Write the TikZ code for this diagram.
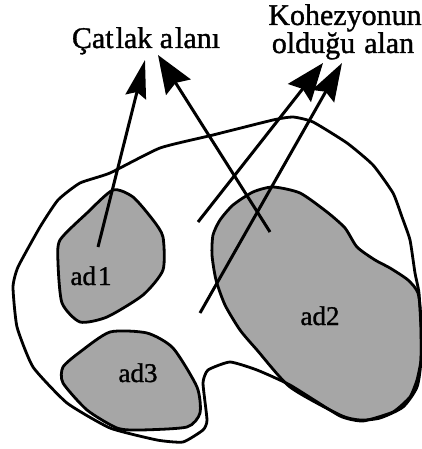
\documentclass[tikz,border=0pt]{standalone}
\usepackage{fontspec}
\setmainfont{Liberation Serif}[FakeBold=1.2]
\usetikzlibrary{arrows.meta}
\begin{document}
\begin{tikzpicture}[x=1pt,y=-1pt,
  outline/.style={line width=2.8pt, line join=round},
  blob/.style={outline, fill=black!35},
  bigarrow/.style={line width=3pt, -{Stealth[length=38pt,width=#1,inset=5pt]}},
  bigarrow/.default=24pt,
  lbl/.style={font=\fontsize{30}{28}\selectfont, inner sep=0pt, anchor=base},
  adlbl/.style={font=\fontsize{27}{27}\selectfont, inner sep=0pt, anchor=base}]
\useasboundingbox (0,0) rectangle (422,449);
% grey areas
\draw[blob] plot[smooth cycle, tension=0.4] coordinates {
  (113,190) (133,197) (153,220) (163,237) (163,270) (143,295) (107,317)
  (80,322) (62,303) (58,263) (60,240) (87,213)};
\draw[blob] plot[smooth cycle, tension=0.4] coordinates {
  (273,187) (300,193) (327,212) (345,228) (357,247) (375,260) (390,268)
  (408,280) (418,293) (421,320) (421,360) (417,387) (403,407) (380,418)
  (360,420) (340,415) (290,387) (257,350) (240,330) (225,305) (216,280)
  (212,255) (213,235) (220,220) (233,205) (253,192)};
\draw[blob] plot[smooth cycle, tension=0.4] coordinates {
  (110,332) (147,333) (173,348) (197,387) (200,413) (187,427) (140,430)
  (117,428) (87,410) (63,383) (63,367) (80,352)};
% outer boundary
\draw[outline] plot[smooth cycle, tension=0.3] coordinates {
  (40,227) (58,200) (80,183) (110,173) (160,148) (213,135) (273,120)
  (293,117) (313,122) (347,143) (373,165) (393,193) (402,217) (410,240)
  (415,273) (419,293) (421,330) (421,360) (417,380) (410,397) (393,412)
  (363,421) (340,416) (290,385) (257,370) (230,362) (208,370) (203,383)
  (207,420) (203,430) (183,442) (157,440) (110,428) (67,403) (33,367)
  (17,327) (13,287) (18,267)};
% labels
\node[lbl] (catlak) at (146,48) {Çat\kern2pt lak a\kern2pt lanı};
\node[lbl] (koh1) at (345,25) {Kohezyonun};
\node[lbl] (koh2) at (343,53) {olduğu\kern9pt alan};
\node[adlbl] (ad1) at (91,285) {ad\kern2pt 1};
\node[adlbl] (ad2) at (320,325) {ad2};
\node[adlbl] (ad3) at (138,382) {ad3};
% arrows
\coordinate (s1) at (98,247);  \coordinate (t1) at (145,60);
\coordinate (s2) at (270,232); \coordinate (t2) at (158,55);
\coordinate (s3) at (198,222); \coordinate (t3) at (323,63);
\coordinate (s4) at (200,313); \coordinate (t4) at (342,63);
\draw[bigarrow=21pt] (s1) -- (t1);
\draw[bigarrow=29pt] (s2) -- (t2);
\draw[bigarrow=29pt] (s3) -- (t3);
\draw[bigarrow=25pt] (s4) -- (t4);
\end{tikzpicture}
\end{document}
